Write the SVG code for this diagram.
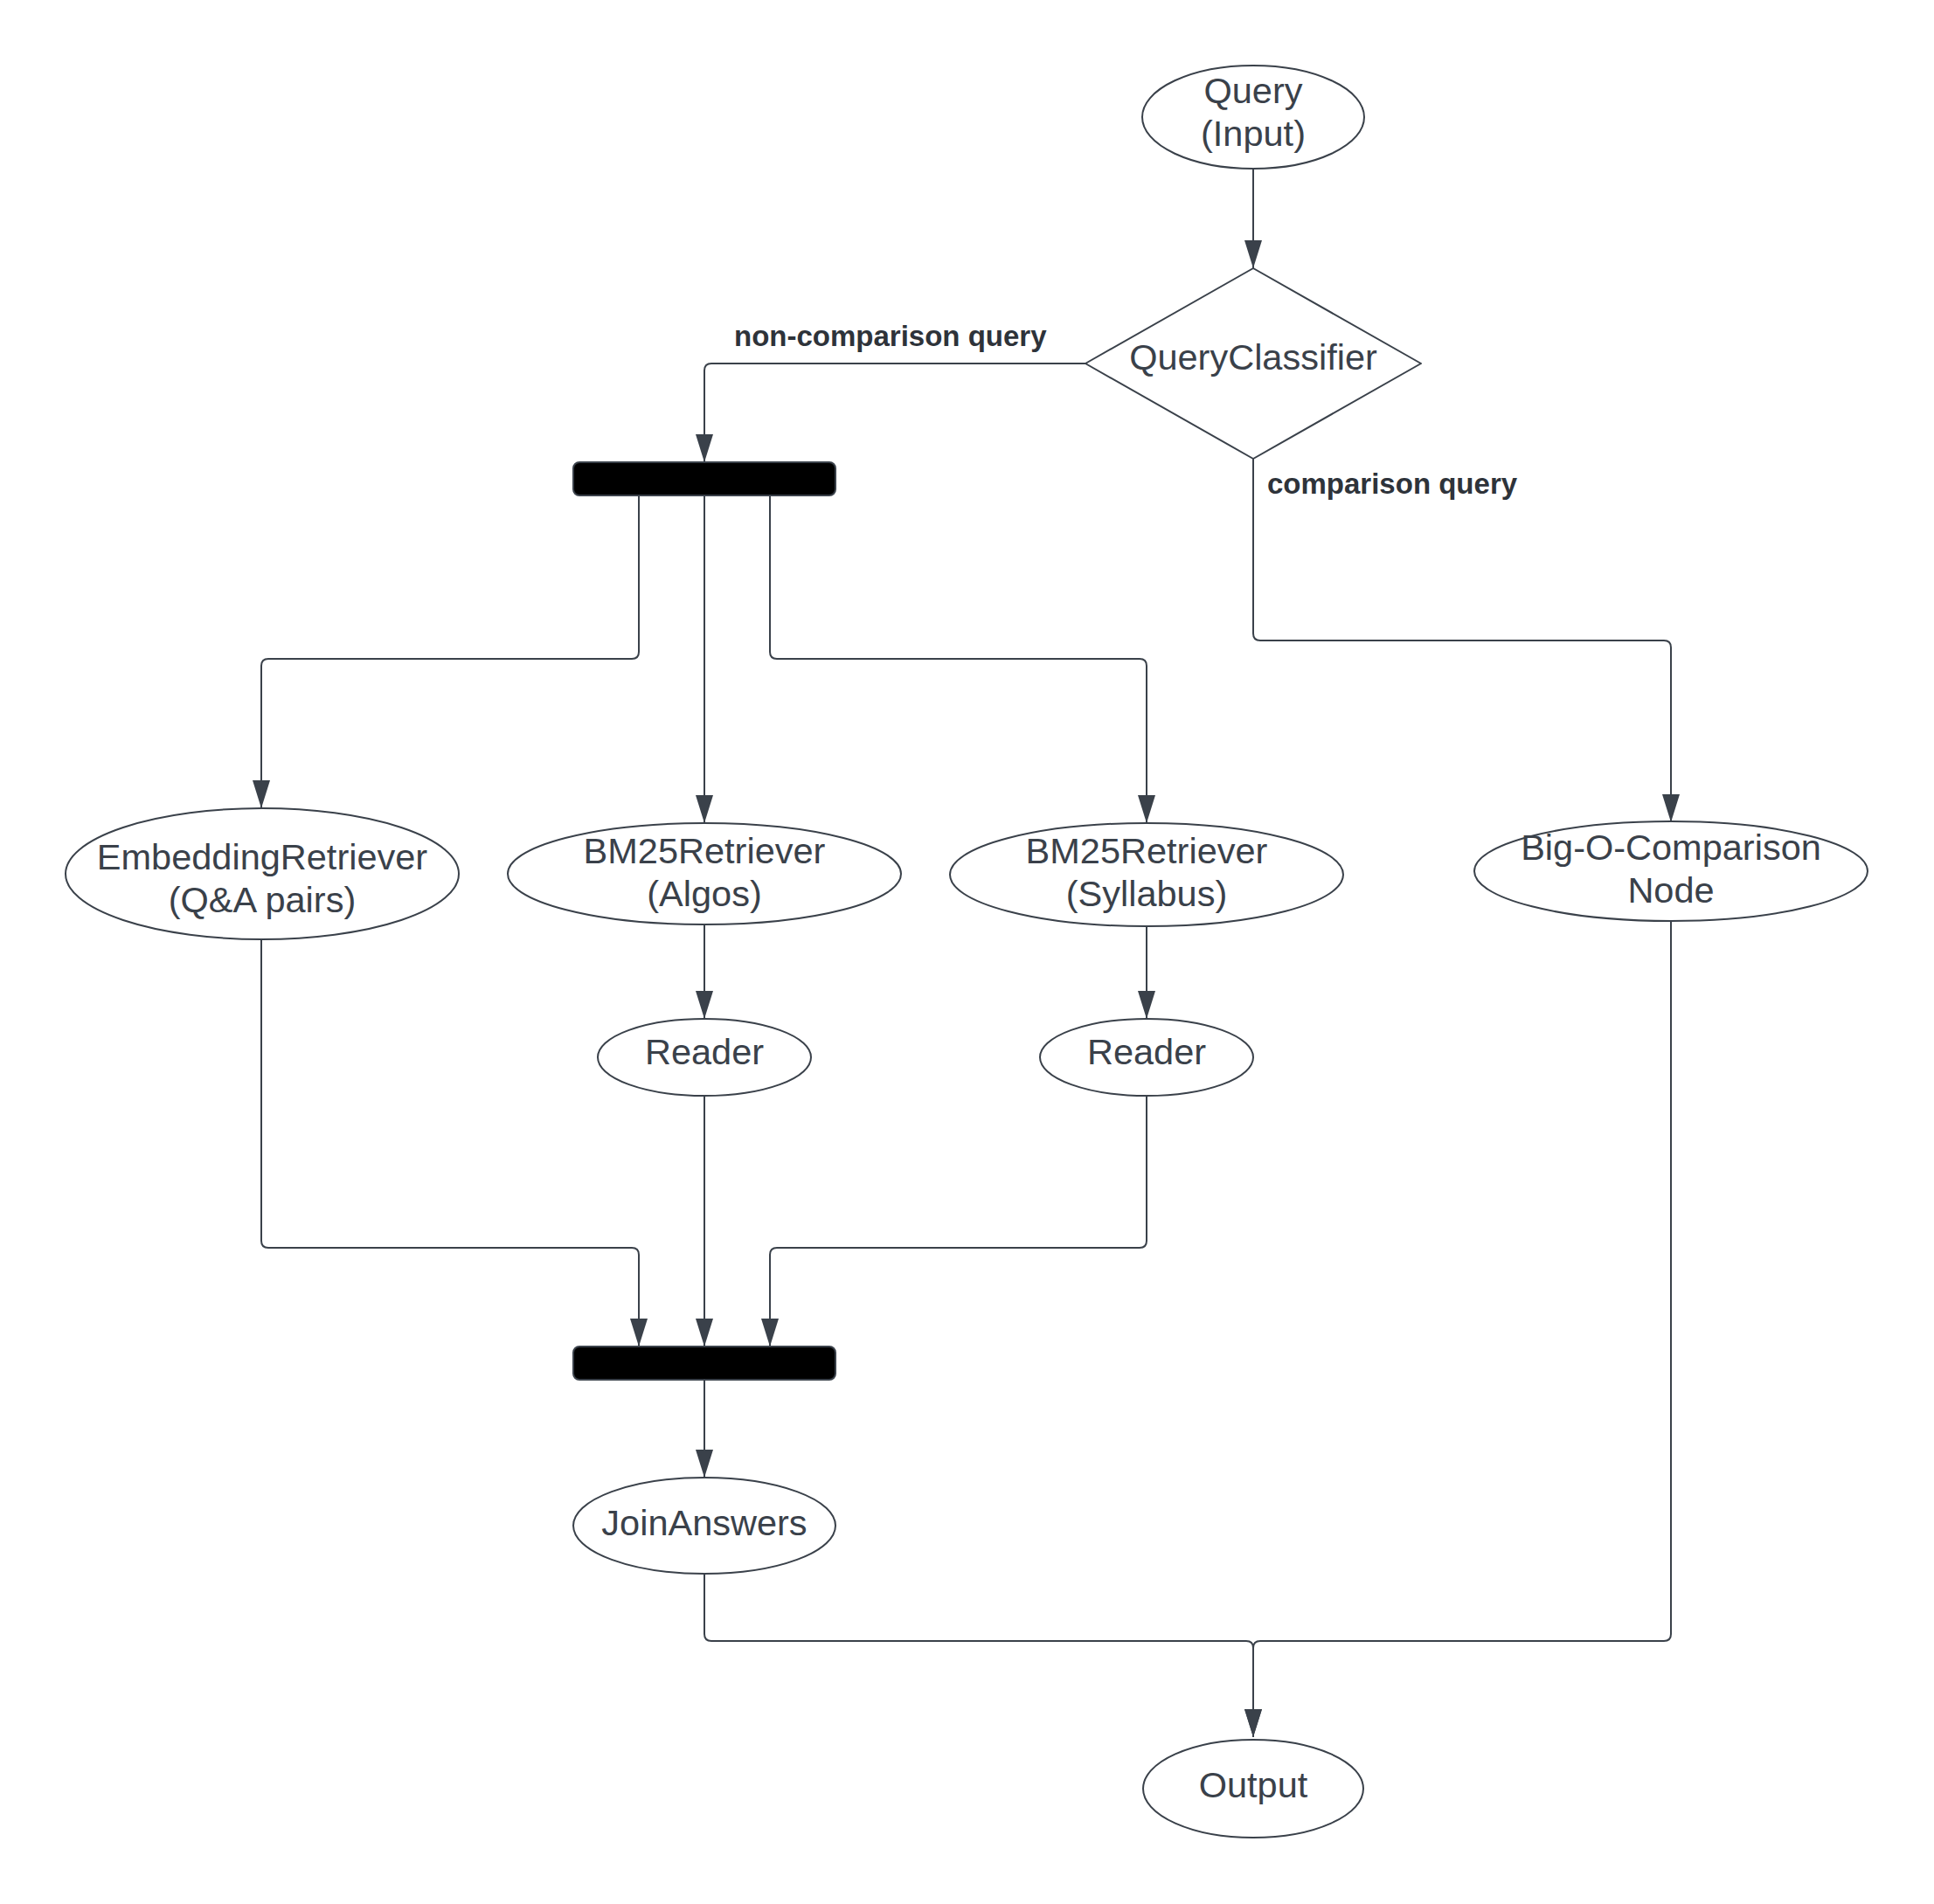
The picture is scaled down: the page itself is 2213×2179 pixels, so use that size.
<svg xmlns="http://www.w3.org/2000/svg" width="2213" height="2179" viewBox="0 0 2213 2179">
<style>
.node{fill:#ffffff;stroke:#3a414a;stroke-width:2}
.bar{fill:#000000;stroke:#3a414a;stroke-width:2}
.t{font-family:"Liberation Sans",Arial,sans-serif;font-size:41.5px;fill:#3a414a;text-anchor:middle}
.lbl{font-family:"Liberation Sans",Arial,sans-serif;font-size:33px;font-weight:bold;fill:#2e333a}
.edge{fill:none;stroke:#3a414a;stroke-width:2}
</style>
<defs>
<marker id="arrow" viewBox="0 0 32 20" refX="32" refY="10" markerWidth="32" markerHeight="20" markerUnits="userSpaceOnUse" orient="auto">
<path d="M0,0 L32,10 L0,20 z" fill="#3a414a"/>
</marker>
</defs>
<rect width="2213" height="2179" fill="#ffffff"/>
<g id="connectors">
<path class="edge" marker-end="url(#arrow)" d="M1434,194 L1434,307"/>
<path class="edge" marker-end="url(#arrow)" d="M1242,416 L814,416 Q806,416 806,424 L806,529"/>
<path class="edge" marker-end="url(#arrow)" d="M1434,525 L1434,725 Q1434,733 1442,733 L1904,733 Q1912,733 1912,741 L1912,941"/>
<path class="edge" marker-end="url(#arrow)" d="M731,567 L731,746 Q731,754 723,754 L307,754 Q299,754 299,762 L299,925"/>
<path class="edge" marker-end="url(#arrow)" d="M806,567 L806,942"/>
<path class="edge" marker-end="url(#arrow)" d="M881,567 L881,746 Q881,754 889,754 L1304,754 Q1312,754 1312,762 L1312,942"/>
<path class="edge" marker-end="url(#arrow)" d="M806,1059 L806,1166"/>
<path class="edge" marker-end="url(#arrow)" d="M1312,1060 L1312,1166"/>
<path class="edge" marker-end="url(#arrow)" d="M299,1075 L299,1420 Q299,1428 307,1428 L723,1428 Q731,1428 731,1436 L731,1541"/>
<path class="edge" marker-end="url(#arrow)" d="M806,1255 L806,1541"/>
<path class="edge" marker-end="url(#arrow)" d="M1312,1255 L1312,1420 Q1312,1428 1304,1428 L889,1428 Q881,1428 881,1436 L881,1541"/>
<path class="edge" marker-end="url(#arrow)" d="M806,1579 L806,1691"/>
<path class="edge" marker-end="url(#arrow)" d="M806,1802 L806,1870 Q806,1878 814,1878 L1426,1878 Q1434,1878 1434,1886 L1434,1988"/>
<path class="edge" marker-end="url(#arrow)" d="M1912,1054 L1912,1870 Q1912,1878 1904,1878 L1442,1878 Q1434,1878 1434,1886 L1434,1988"/>
<text class="lbl" x="840" y="396">non-comparison query</text>
<text class="lbl" x="1450" y="565">comparison query</text>
</g>
<g id="query">
<ellipse class="node" cx="1434" cy="134" rx="127" ry="59"/>
<text class="t" x="1434" y="118">Query</text>
<text class="t" x="1434" y="167">(Input)</text>
</g>
<g id="queryclassifier">
<polygon class="node" stroke-linejoin="round" points="1434,307 1626,416 1434,525 1242,416"/>
<text class="t" x="1434" y="423">QueryClassifier</text>
</g>
<g id="fork">
<rect class="bar" x="656" y="529" width="300" height="38" rx="7"/>
</g>
<g id="embeddingretriever">
<ellipse class="node" cx="300" cy="1000" rx="225" ry="75"/>
<text class="t" x="300" y="995">EmbeddingRetriever</text>
<text class="t" x="300" y="1044">(Q&amp;A pairs)</text>
</g>
<g id="bm25algos">
<ellipse class="node" cx="806" cy="1000" rx="225" ry="58"/>
<text class="t" x="806" y="988">BM25Retriever</text>
<text class="t" x="806" y="1037">(Algos)</text>
</g>
<g id="bm25syllabus">
<ellipse class="node" cx="1312" cy="1001" rx="225" ry="59"/>
<text class="t" x="1312" y="988">BM25Retriever</text>
<text class="t" x="1312" y="1037">(Syllabus)</text>
</g>
<g id="bigo">
<ellipse class="node" cx="1912" cy="997" rx="225" ry="57"/>
<text class="t" x="1912" y="984">Big-O-Comparison</text>
<text class="t" x="1912" y="1033">Node</text>
</g>
<g id="reader1">
<ellipse class="node" cx="806" cy="1210" rx="122" ry="44"/>
<text class="t" x="806" y="1218">Reader</text>
</g>
<g id="reader2">
<ellipse class="node" cx="1312" cy="1210" rx="122" ry="44"/>
<text class="t" x="1312" y="1218">Reader</text>
</g>
<g id="join">
<rect class="bar" x="656" y="1541" width="300" height="38" rx="7"/>
</g>
<g id="joinanswers">
<ellipse class="node" cx="806" cy="1746" rx="150" ry="55"/>
<text class="t" x="806" y="1757">JoinAnswers</text>
</g>
<g id="output">
<ellipse class="node" cx="1434" cy="2047" rx="126" ry="56"/>
<text class="t" x="1434" y="2057">Output</text>
</g>
</svg>
